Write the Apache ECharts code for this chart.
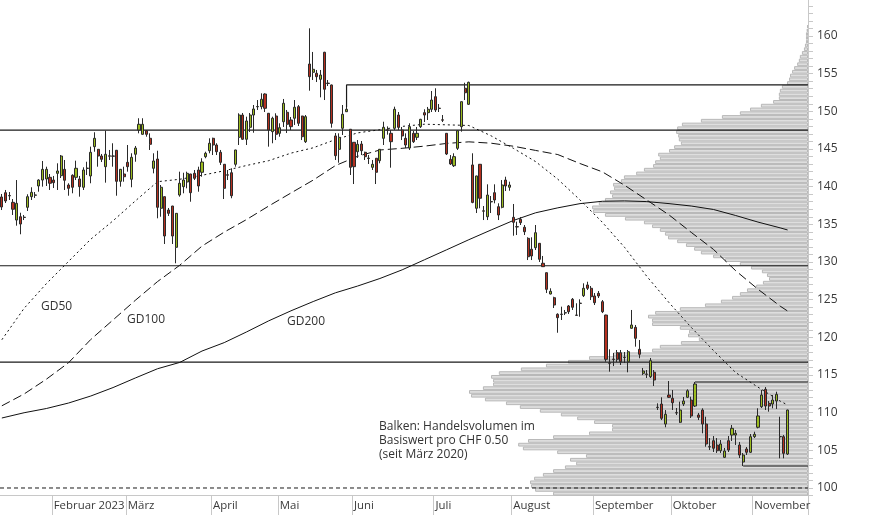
<!DOCTYPE html>
<html><head><meta charset="utf-8">
<script src="https://cdn.jsdelivr.net/npm/echarts/dist/echarts.min.js"></script>
<style>html,body{margin:0;padding:0;background:#fff}#c{width:874px;height:515px}</style>
</head><body><div id="c"></div>
<script>
// ---- data ----
const slotCount = 218; // trading-day slots on the x axis (last few empty)
const monthStarts = [14, 34, 57, 75, 95, 117, 138, 160, 181, 203];
const monthLabels = ['Februar 2023', 'März', 'April', 'Mai', 'Juni', 'Juli', 'August', 'September', 'Oktober', 'November'];

// [open, close, low, high]
const candles = [
[138.63,137.30,136.90,139.03],[139.20,138.10,137.83,139.56],[138.82,138.78,138.23,139.29],[137.92,137.00,136.24,138.36],
[135.57,137.79,134.82,140.88],[136.01,135.04,133.68,136.54],[135.95,135.91,135.57,136.24],[137.26,138.67,136.77,138.99],
[138.67,139.25,138.23,139.92],[138.90,138.86,138.50,139.29],[140.09,140.88,139.33,140.98],[140.88,142.30,140.00,143.41],
[141.02,142.30,140.09,142.65],[141.24,140.45,139.56,141.68],[140.88,140.53,139.82,141.42],[141.77,142.08,139.56,143.10],
[141.46,144.07,141.15,144.20],[142.30,140.85,139.56,143.54],[140.22,139.78,138.80,140.45],[141.51,139.92,139.12,141.64],
[141.24,142.44,140.88,143.45],[141.02,140.00,138.67,141.42],[139.92,142.21,139.56,142.57],[142.46,142.42,141.55,143.31],
[141.42,144.56,140.45,145.31],[145.31,146.42,144.64,147.22],[144.96,144.07,142.65,145.00],[144.07,143.63,143.27,144.34],
[142.65,144.30,140.53,147.43],[144.09,144.05,143.54,144.87],[144.07,144.05,142.65,145.76],[144.83,140.71,138.80,144.87],
[140.71,142.30,140.00,142.35],[141.68,141.32,140.66,142.65],[143.23,142.65,141.99,145.53],[140.98,143.90,139.92,144.43],
[144.30,145.13,143.31,145.40],[147.52,148.28,147.08,149.08],[146.95,148.28,146.90,149.08],[147.43,146.95,146.63,147.52],
[146.42,145.62,144.87,147.08],[142.44,143.41,141.77,144.43],[143.67,137.26,135.80,144.77],[137.13,139.92,136.01,140.22],
[138.67,133.45,132.39,138.70],[136.90,136.46,136.11,137.17],[137.43,133.45,132.39,137.45],[131.95,136.46,129.83,136.50],
[138.89,140.45,138.67,141.99],[140.00,140.88,139.12,141.85],[140.62,141.77,139.78,141.99],[141.68,139.20,138.00,141.70],
[141.77,141.11,140.88,142.21],[142.21,140.09,139.33,142.65],[141.91,143.27,141.32,143.77],[143.98,144.43,143.77,144.64],
[144.77,145.76,144.43,146.42],[146.42,145.53,144.20,146.50],[145.53,144.64,144.20,145.76],[144.56,143.23,142.88,144.87],
[142.97,139.78,138.36,143.00],[141.57,141.53,140.88,142.21],[141.85,138.80,138.46,142.44],[142.97,144.87,142.65,144.90],
[146.55,149.51,145.53,149.74],[149.51,146.29,146.20,149.78],[146.29,148.72,145.53,149.29],[147.88,149.51,147.26,149.78],
[149.51,150.31,147.16,150.84],[150.64,150.60,150.18,151.50],[150.62,151.60,150.27,152.39],[152.30,150.40,149.91,152.39],
[149.74,147.52,145.31,149.78],[147.30,149.08,145.76,149.29],[149.38,146.95,146.19,149.74],[147.08,147.83,146.63,148.41],
[148.62,151.07,147.92,151.64],[149.87,148.28,147.12,150.18],[148.85,147.96,147.52,149.25],[149.08,150.54,148.19,151.50],
[150.62,148.41,148.05,150.84],[149.38,146.63,146.19,149.40],[145.97,149.29,145.80,149.51],[156.28,154.60,152.74,161.02],
[155.18,155.58,154.16,157.88],[155.05,154.60,153.89,155.49],[154.25,154.82,151.86,155.49],[157.84,152.93,151.50,157.90],
[153.74,153.70,153.36,154.16],[153.50,148.41,147.83,153.55],[146.73,144.11,143.54,147.12],[144.96,146.55,143.18,147.08],
[147.75,149.61,146.86,150.84],[149.95,150.27,149.91,150.58],[147.62,142.57,141.55,147.65],[145.89,142.65,140.35,145.90],
[144.64,145.62,143.81,146.19],[145.66,144.77,144.20,146.06],[144.56,143.98,143.54,144.64],[143.79,143.75,143.01,144.20],
[142.57,142.97,142.21,143.54],[143.77,141.91,140.35,143.80],[143.45,144.96,143.10,145.00],[146.42,147.88,145.53,148.62],
[147.54,147.50,146.90,148.00],[147.08,145.97,142.52,147.52],[147.75,150.27,147.52,150.62],[149.51,147.88,147.52,149.91],
[147.52,146.73,146.19,147.92],[146.42,145.53,145.13,147.08],[145.13,147.96,144.87,148.41],[147.08,145.97,145.80,147.39],
[146.55,147.08,146.19,147.92],[147.96,148.94,147.79,149.00],[149.82,149.51,148.58,150.27],[149.82,150.27,148.85,150.58],
[150.27,151.50,149.91,152.70],[151.94,150.18,149.91,153.06],[150.42,150.38,149.91,150.97],[148.87,148.83,148.58,149.51],
[147.08,144.34,144.20,147.10],[143.63,143.01,142.88,144.20],[142.78,143.98,142.61,144.43],[145.09,147.43,144.87,147.52],
[147.96,151.28,147.30,151.30],[153.06,152.47,151.50,153.80],[150.93,153.85,150.84,153.94],[142.88,137.91,137.80,144.43],
[137.13,141.42,136.50,141.45],[142.97,138.46,137.13,143.00],[136.79,136.75,135.57,137.43],[136.01,138.89,135.57,140.31],
[138.02,137.98,136.50,138.76],[139.20,138.23,137.79,140.31],[137.34,136.24,135.57,137.79],[137.26,140.22,137.13,140.88],
[140.88,140.09,139.42,141.32],[139.92,140.22,139.46,140.66],[135.93,135.27,133.49,137.70],[134.69,134.65,133.58,135.35],
[135.67,135.22,134.91,135.97],[134.61,134.02,133.58,134.91],[133.14,130.70,130.26,133.28],[131.69,130.80,130.26,133.28],
[131.90,133.89,131.59,134.91],[132.48,130.36,130.00,132.50],[129.83,129.38,129.34,130.80],[128.58,126.37,125.88,128.60],
[125.75,126.11,125.70,126.51],[125.26,124.29,123.89,125.39],[123.06,122.61,120.61,123.19],[123.08,123.04,122.30,124.07],
[123.27,123.23,122.96,123.63],[124.16,123.40,123.10,124.29],[125.05,123.99,123.63,125.22],[122.96,122.92,122.83,124.52],
[124.54,124.50,122.74,125.05],[125.53,126.51,125.35,127.17],[126.95,126.51,126.28,127.38],[126.51,125.39,124.95,126.81],
[125.49,124.60,124.29,125.88],[125.84,125.49,125.22,126.15],[124.73,123.40,123.22,124.95],[122.96,117.08,116.76,123.00],
[116.60,116.56,115.44,118.41],[117.11,117.07,116.19,117.92],[117.96,117.08,116.72,118.32],[117.96,116.76,116.33,118.32],
[117.35,117.31,116.59,118.05],[116.76,118.09,115.36,118.32],[121.20,121.64,121.15,123.63],[121.33,119.87,118.76,121.64],
[118.41,117.75,117.22,119.64],[115.22,115.53,114.99,115.93],[115.13,115.09,114.60,115.66],[114.77,116.90,114.60,117.26],
[115.36,114.33,113.54,115.66],[110.73,110.69,110.35,111.24],[111.15,109.25,109.02,112.04],[108.49,109.78,108.06,110.35],
[112.34,112.04,111.95,114.20],[111.91,111.32,110.35,113.01],[110.00,109.96,109.69,110.62],[108.72,110.35,108.63,111.46],
[111.15,111.55,110.88,112.08],[112.04,112.91,111.95,113.10],[111.68,109.56,109.29,112.12],[110.88,113.80,110.75,114.07],
[109.69,109.38,109.02,109.96],[110.35,108.49,107.26,110.58],[108.49,105.84,105.48,109.46],[105.48,105.44,105.04,106.63],
[106.28,105.27,104.78,106.90],[105.70,104.95,104.65,106.63],[104.95,105.84,104.65,106.37],[104.07,104.91,103.98,105.31],
[106.28,105.04,104.78,106.90],[107.03,107.92,106.24,108.36],[107.03,107.26,105.71,107.70],[105.71,104.38,103.98,106.11],
[103.45,104.38,102.92,104.65],[105.18,104.74,104.38,105.44],[104.74,106.81,104.65,107.17],[106.81,107.13,106.64,107.47],
[108.06,109.56,107.92,110.58],[110.79,112.34,110.62,113.01],[113.10,110.88,110.35,113.40],[111.24,110.88,110.13,111.55],
[111.15,111.68,110.58,112.34],[111.55,112.43,110.49,112.78],[106.83,106.79,103.94,109.46],[106.81,104.60,103.94,107.04],
[104.51,110.35,104.38,110.40]
];

// moving averages, sampled at these trading-day indices
const maDays = [0,6,12,18,24,30,36,42,48,54,60,66,72,78,84,90,96,102,108,114,120,126,132,138,144,150,156,162,168,174,180,186,192,198,204,210,212];
const gd50 = [119.68,123.85,127.12,130.08,133.03,135.47,138.10,140.66,140.98,141.51,142.11,142.81,143.45,144.45,145.16,146.25,147.14,147.56,148.00,148.29,148.21,148.12,146.75,145.09,143.33,140.99,138.23,135.28,131.95,128.10,124.61,121.32,118.24,115.32,113.39,111.53,111.02];
const gd100 = [110.91,112.48,114.44,116.63,119.72,122.31,124.91,127.40,129.57,132.11,133.97,135.63,137.43,139.16,140.87,142.80,144.03,144.87,145.09,145.38,145.74,145.95,145.77,145.37,144.81,144.26,143.07,141.97,140.19,138.23,136.25,133.93,131.67,128.84,126.39,124.14,123.49];
const gd200 = [109.29,109.99,110.55,111.28,112.21,113.33,114.60,115.83,116.67,118.18,119.30,120.71,122.19,123.52,124.75,125.91,126.81,127.81,128.96,130.29,131.62,132.96,134.25,135.51,136.53,137.19,137.75,138.06,138.11,138.02,137.75,137.43,136.97,136.17,135.30,134.53,134.25];

// volume profile: relative volume per CHF 0.50 bin, starting at bin 99.00-99.50
const profileStart = 99.0;
const profileStep = 0.5;
const profileVolume = [75.2,80.5,81.7,82.0,80.8,78.2,75.2,71.7,68.4,70.2,
65.5,74.0,84.1,85.5,82.6,75.2,64.6,57.8,57.8,63.1,
68.1,72.9,79.1,85.0,89.1,95.3,99.4,100,95.9,92.9,
92.9,93.5,91.2,84.7,77.3,70.8,64.6,57.5,46.0,43.7,
37.5,32.2,35.4,35.1,37.8,46.0,46.0,47.2,45.1,37.8,
30.4,25.7,22.4,20.1,18.0,15.3,13.3,11.5,12.1,13.6,
16.8,20.1,24.5,28.0,31.6,33.6,36.0,38.6,41.3,42.2,
43.7,46.0,48.4,54.0,59.9,63.4,63.7,61.7,59.9,57.8,
58.4,57.2,57.5,55.2,54.3,50.7,48.4,45.7,45.1,43.7,
44.2,41.0,39.5,37.5,38.1,38.3,38.9,38.6,37.2,31.6,
25.4,20.1,17.1,13.9,10.3,8.6,8.6,8.3,7.7,6.2,
5.6,5.3,4.7,4.1,3.2,2.7,2.4,1.8,1.2,0.9,
0.6,0.6,0.6,0.4,0.3];

const levelLines = [147.5, 129.5, 116.7];
const dashedLevel = 100;
// resistance/support brackets: start day, start price, level
const bracketDays = [93, 187, 200];
const bracketFrom = [150.58, 114.07, 102.92];
const bracketLevel = [153.5, 114.07, 102.92];

const yMin = 99, yMax = 165;

// ---- build options ----
const categories = [];
for (let i = 0; i < slotCount; i++) categories.push(String(i));
const monthSet = new Set(monthStarts);
const binCats = [];
for (let v = yMin; v < yMax - 1e-9; v += profileStep) binCats.push(v.toFixed(1));
const profileData = binCats.map((b) => {
  const k = Math.round((parseFloat(b) - profileStart) / profileStep);
  return (k >= 0 && k < profileVolume.length) ? profileVolume[k] : null;
});
const maSeries = (vals) => maDays.map((d, i) => [d + 0.5, vals[i]]);

const FONT = '"Open Sans", "Noto Sans", sans-serif';
const lineBase = { type: 'line', xAxisIndex: 1, yAxisIndex: 0, symbol: 'none', silent: true, animation: false };
const hiddenAxis = { show: false, axisLine: { show: false, onZero: false }, axisTick: { show: false }, axisLabel: { show: false }, splitLine: { show: false }, gridIndex: 0 };

const series = [];
series.push({
  type: 'bar', xAxisIndex: 2, yAxisIndex: 1, data: profileData, barCategoryGap: '0%',
  itemStyle: { color: '#dedede', borderColor: '#b8b8b8', borderWidth: 1 }, silent: true, z: 1
});
levelLines.forEach(l => series.push(Object.assign({}, lineBase, {
  data: [[0, l], [slotCount, l]], lineStyle: { color: '#1a1a1a', width: 1.2 }, z: 2
})));
series.push(Object.assign({}, lineBase, {
  data: [[0, dashedLevel], [slotCount, dashedLevel]], lineStyle: { color: '#1a1a1a', width: 1, type: [4, 3] }, z: 2
}));
bracketDays.forEach((d, i) => series.push(Object.assign({}, lineBase, {
  data: [[d + 0.5, bracketFrom[i]], [d + 0.5, bracketLevel[i]], [slotCount, bracketLevel[i]]],
  lineStyle: { color: '#1a1a1a', width: 1.2 }, z: 2
})));
series.push(Object.assign({}, lineBase, { data: maSeries(gd50), lineStyle: { color: '#111', width: 1, type: [2, 3] }, z: 3 }));
series.push(Object.assign({}, lineBase, { data: maSeries(gd100), lineStyle: { color: '#111', width: 1, type: [9, 4] }, z: 3 }));
series.push(Object.assign({}, lineBase, { data: maSeries(gd200), lineStyle: { color: '#111', width: 1 }, z: 3 }));
series.push({
  type: 'candlestick', xAxisIndex: 0, yAxisIndex: 0, data: candles, barWidth: 2.6, z: 5,
  itemStyle: { color: '#9bbb1f', color0: '#b5301f', borderColor: '#2a2a2a', borderColor0: '#2a2a2a', borderColorDoji: '#2a2a2a', borderWidth: 1 },
  silent: true
});

const chart = echarts.init(document.getElementById('c'), null, { renderer: 'canvas' });
chart.setOption({
  animation: false,
  backgroundColor: '#ffffff',
  grid: { left: 0, right: 66, top: -1.67, bottom: 19.47, containLabel: false, outerBoundsMode: 'none' },
  xAxis: [
    {
      type: 'category', data: categories, boundaryGap: true, gridIndex: 0, position: 'bottom',
      axisLine: { show: true, onZero: false, lineStyle: { color: '#c8c8c8', width: 1 } },
      axisTick: { show: true, length: 21, interval: (i) => monthSet.has(i) || i >= slotCount, lineStyle: { color: '#c8c8c8' } },
      axisLabel: {
        interval: (i) => monthSet.has(i),
        formatter: (v) => { const k = monthStarts.indexOf(Number(v)); return k >= 0 ? monthLabels[k] : ''; },
        align: 'left', margin: 5, color: '#3a3a3a', fontSize: 11.4, fontFamily: FONT,
        hideOverlap: false, showMinLabel: true, showMaxLabel: true
      },
      splitLine: { show: false }
    },
    Object.assign({ type: 'value', min: 0, max: slotCount }, hiddenAxis),
    Object.assign({ type: 'value', min: 0, max: 808 * 100 / 339, inverse: true }, hiddenAxis)
  ],
  yAxis: [
    {
      type: 'value', position: 'right', min: yMin, max: yMax, interval: 1, gridIndex: 0,
      axisLine: { show: true, onZero: false, lineStyle: { color: '#c8c8c8', width: 1 } },
      axisTick: { show: true, inside: false, length: 5, lineStyle: { color: '#c8c8c8' } },
      axisLabel: { formatter: (v) => (v % 5 === 0 && v < yMax) ? String(v) : '', color: '#3a3a3a', fontSize: 12, fontFamily: FONT, margin: 9 },
      splitLine: { show: false }
    },
    Object.assign({ type: 'category', data: binCats, boundaryGap: true, position: 'right' }, hiddenAxis)
  ],
  graphic: [
    { type: 'text', x: 41, y: 307, silent: true, style: { text: 'GD50', font: '12px ' + FONT, fill: '#333', verticalAlign: 'middle' } },
    { type: 'text', x: 127, y: 320, silent: true, style: { text: 'GD100', font: '12px ' + FONT, fill: '#333', verticalAlign: 'middle' } },
    { type: 'text', x: 287, y: 321.5, silent: true, style: { text: 'GD200', font: '12px ' + FONT, fill: '#333', verticalAlign: 'middle' } },
    { type: 'text', x: 379, y: 420, silent: true, style: { text: 'Balken: Handelsvolumen im\nBasiswert pro CHF 0.50\n(seit März 2020)', font: '12px ' + FONT, fill: '#333', verticalAlign: 'top', lineHeight: 14 } }
  ],
  series: series
});
</script>
</body></html>
